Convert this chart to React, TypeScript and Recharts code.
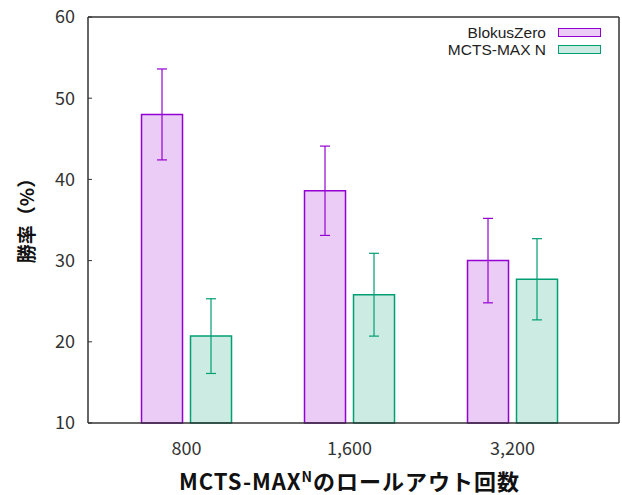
import React from 'react';
import { BarChart, Bar, XAxis, YAxis, ErrorBar } from 'recharts';

// rollout counts for MCTS-MAX^N
const categories = ['800', '1,600', '3,200'];
// win rates (%) and error half-widths
const blokusZero = [48.0, 38.6, 30.0];
const blokusZeroErr = [5.6, 5.5, 5.2];
const mctsMaxN = [20.7, 25.8, 27.7];
const mctsMaxNErr = [4.6, 5.1, 5.0];
const yTicks = [10, 20, 30, 40, 50, 60];

const PURPLE = '#9400d3';
const GREEN = '#009e73';
const JP_FONT = '"Noto Sans CJK JP", "Noto Sans", sans-serif';

const data = categories.map((name, i) => ({
  name,
  blokus: blokusZero[i],
  blokusErr: blokusZeroErr[i],
  mcts: mctsMaxN[i],
  mctsErr: mctsMaxNErr[i],
}));

const legendItems = [
  { label: 'BlokusZero', color: PURPLE },
  { label: 'MCTS-MAX N', color: GREEN },
];

// legend sits inside the plot box, top right
const ChartLegend = () => (
  <div
    style={{
      position: 'absolute',
      top: 24,
      right: 21,
      fontFamily: '"Liberation Sans", Arial, sans-serif',
      fontSize: 15.5,
      color: '#222',
    }}
  >
    {legendItems.map((item) => (
      <div key={item.label} style={{ display: 'flex', alignItems: 'center', justifyContent: 'flex-end', height: 17 }}>
        <span style={{ marginRight: 12 }}>{item.label}</span>
        <span
          style={{
            display: 'inline-block',
            width: 41,
            height: 7,
            border: `1.5px solid ${item.color}`,
            background: item.color + '33',
          }}
        />
      </div>
    ))}
  </div>
);

const App: React.FC = () => {
  return (
    <div style={{ position: 'absolute', left: 0, top: 0, width: 622, height: 495, background: '#fff' }}>
      <BarChart
        width={622}
        height={495}
        data={data}
        margin={{ top: 16, right: 2, bottom: 0, left: 0 }}
        barCategoryGap="22.4%"
        barGap={8}
      >
        <XAxis
          dataKey="name"
          height={72}
          padding={{ left: 17, right: 25 }}
          tickLine={false}
          tickSize={0}
          tickMargin={19}
          axisLine={{ stroke: '#333', strokeWidth: 1.5 }}
          tick={{ fill: '#333', fontSize: 18, fontFamily: JP_FONT }}
          label={(props: any) => {
            const vb = props.viewBox;
            const cx = vb.x + vb.width / 2;
            return (
              <text
                x={cx - 4}
                y={490}
                textAnchor="middle"
                fontFamily={JP_FONT}
                fontWeight="bold"
                fontSize={22}
                letterSpacing={1}
                fill="#111"
              >
                MCTS-MAX
                <tspan fontSize={14} dy={-8}>N</tspan>
                <tspan dy={8}>のロールアウト回数</tspan>
              </text>
            );
          }}
        />
        <XAxis
          xAxisId="top"
          dataKey="name"
          orientation="top"
          height={1}
          padding={{ left: 17, right: 25 }}
          tick={false}
          tickLine={false}
          axisLine={{ stroke: '#333', strokeWidth: 1.5 }}
        />
        <YAxis
          width={88}
          domain={[10, 60]}
          ticks={yTicks}
          interval={0}
          tickSize={-4}
          tickMargin={17}
          tickLine={{ stroke: '#333' }}
          axisLine={{ stroke: '#333', strokeWidth: 1.5 }}
          tick={{ fill: '#333', fontSize: 18, fontFamily: JP_FONT }}
          label={() => (
            <text
              x={0}
              y={0}
              transform="translate(34, 216) rotate(-90)"
              textAnchor="middle"
              fontFamily={JP_FONT}
              fontWeight="bold"
              fontSize={19}
              fill="#111"
            >
              勝率（%）
            </text>
          )}
        />
        <YAxis
          yAxisId="right"
          orientation="right"
          width={1}
          domain={[10, 60]}
          tick={false}
          tickLine={false}
          axisLine={{ stroke: '#333', strokeWidth: 1.5 }}
        />
        <Bar dataKey="blokus" fill={PURPLE} fillOpacity={0.2} stroke={PURPLE} strokeWidth={1.5} isAnimationActive={false}>
          <ErrorBar dataKey="blokusErr" width={5} stroke={PURPLE} strokeWidth={1.2} />
        </Bar>
        <Bar dataKey="mcts" fill={GREEN} fillOpacity={0.2} stroke={GREEN} strokeWidth={1.5} isAnimationActive={false}>
          <ErrorBar dataKey="mctsErr" width={5} stroke={GREEN} strokeWidth={1.2} />
        </Bar>
      </BarChart>
      <ChartLegend />
    </div>
  );
};

export default App;
